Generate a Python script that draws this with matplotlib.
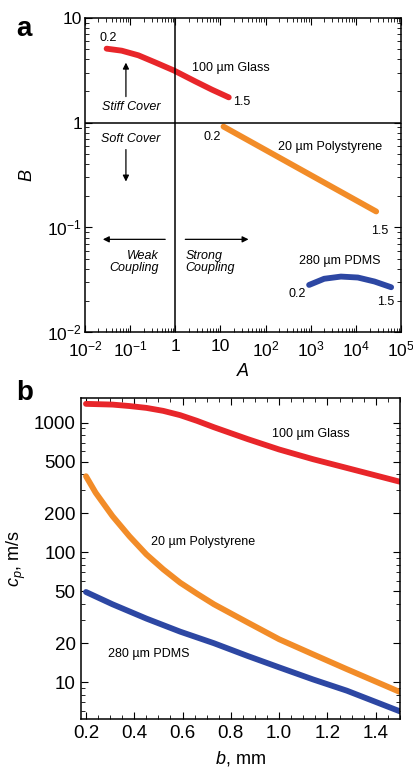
import numpy as np
import matplotlib
matplotlib.use('Agg')
import matplotlib.pyplot as plt
from matplotlib.ticker import FixedLocator, NullFormatter, LogLocator, MultipleLocator

plt.rcParams['font.family'] = ['Liberation Sans', 'DejaVu Sans']
plt.rcParams['mathtext.fontset'] = 'custom'
plt.rcParams['mathtext.rm'] = 'Liberation Sans'
plt.rcParams['mathtext.it'] = 'Liberation Sans:italic'

RED = '#e8262a'
ORANGE = '#f28c28'
BLUE = '#2d47a3'

# panel a: A-B curves (b runs 0.2 -> 1.5 mm along each)
glass_A = [0.0303, 0.0654, 0.153, 0.36, 0.95, 2.78, 6.5, 15.3]
glass_B = [5.07, 4.85, 4.38, 3.75, 3.13, 2.47, 2.06, 1.74]
ps_A = [11.7, 2.8e4]
ps_B = [0.916, 0.142]
pdms_A = [918, 1976, 4640, 1.1e4, 2.57e4, 6.0e4]
pdms_B = [0.0283, 0.0324, 0.034, 0.0333, 0.0305, 0.0269]

# panel b: phase velocity vs b
glass_b = [0.2, 0.31, 0.38, 0.45, 0.52, 0.59, 0.66, 0.73, 0.87, 1.0, 1.14, 1.28, 1.5]
glass_cp = [1393, 1375, 1340, 1297, 1230, 1140, 1030, 920, 745, 620, 522, 447, 350]
ps_b = [0.2, 0.24, 0.31, 0.38, 0.45, 0.52, 0.59, 0.66, 0.73, 0.87, 1.0, 1.14, 1.28, 1.5]
ps_cp = [386, 288, 190, 133, 96.5, 74, 58.4, 48, 39.8, 28.8, 21.4, 16.4, 12.6, 8.4]
pdms_b = [0.2, 0.31, 0.45, 0.59, 0.73, 0.87, 1.0, 1.14, 1.28, 1.5]
pdms_cp = [49.5, 39.8, 30.9, 24.5, 19.95, 15.9, 13.0, 10.5, 8.6, 5.96]

fig = plt.figure(figsize=(4.14, 7.71), dpi=100)

# ---------------- panel a ----------------
ax = fig.add_axes([0.205, 0.569, 0.764, 0.408])
ax.set_xscale('log')
ax.set_yscale('log')
ax.set_xlim(1e-2, 1e5)
ax.set_ylim(1e-2, 10)

lw = 4.2
ax.plot(glass_A, glass_B, color=RED, lw=lw, solid_capstyle='round')
ax.plot(ps_A, ps_B, color=ORANGE, lw=lw, solid_capstyle='round')
ax.plot(pdms_A, pdms_B, color=BLUE, lw=lw, solid_capstyle='round')

ax.axvline(1, color='black', lw=1.1)
ax.axhline(1, color='black', lw=1.1)

fs = 9
ax.text(0.032, 6.45, '0.2', fontsize=fs, ha='center', va='center')
ax.text(2.4, 3.34, '100 µm Glass', fontsize=fs, ha='left', va='center')
ax.text(19, 1.58, '1.5', fontsize=fs, ha='left', va='center')
ax.text(6.6, 0.736, '0.2', fontsize=fs, ha='center', va='center')
ax.text(190, 0.59, '20 µm Polystyrene', fontsize=fs, ha='left', va='center')
ax.text(3.3e4, 0.0915, '1.5', fontsize=fs, ha='center', va='center')
ax.text(540, 0.048, '280 µm PDMS', fontsize=fs, ha='left', va='center')
ax.text(490, 0.023, '0.2', fontsize=fs, ha='center', va='center')
ax.text(4.6e4, 0.0193, '1.5', fontsize=fs, ha='center', va='center')

ax.text(0.105, 1.42, 'Stiff Cover', fontsize=fs, style='italic', ha='center', va='center')
ax.text(0.105, 0.69, 'Soft Cover', fontsize=fs, style='italic', ha='center', va='center')
ax.text(0.44, 0.0464, 'Weak\nCoupling', fontsize=fs, style='italic', ha='right', va='center',
        linespacing=1.0)
ax.text(1.67, 0.0464, 'Strong\nCoupling', fontsize=fs, style='italic', ha='left', va='center',
        linespacing=1.0)

arr = dict(arrowstyle='-|>', color='black', lw=0.9, mutation_scale=9, shrinkA=0, shrinkB=0)
ax.annotate('', xy=(0.081, 3.73), xytext=(0.081, 1.77), arrowprops=arr)
ax.annotate('', xy=(0.081, 0.274), xytext=(0.081, 0.553), arrowprops=arr)
ax.annotate('', xy=(0.025, 0.077), xytext=(0.6, 0.077), arrowprops=arr)
ax.annotate('', xy=(41.9, 0.077), xytext=(1.67, 0.077), arrowprops=arr)

xt = [1e-2, 1e-1, 1, 10, 1e2, 1e3, 1e4, 1e5]
xtl = ['10$^{-2}$', '10$^{-1}$', '1', '10', '10$^2$', '10$^3$', '10$^4$', '10$^5$']
ax.xaxis.set_major_locator(FixedLocator(xt))
ax.set_xticklabels(xtl)
yt = [1e-2, 1e-1, 1, 10]
ytl = ['10$^{-2}$', '10$^{-1}$', '1', '10']
ax.yaxis.set_major_locator(FixedLocator(yt))
ax.set_yticklabels(ytl)
ax.xaxis.set_minor_locator(LogLocator(base=10, subs=np.arange(2, 10), numticks=20))
ax.yaxis.set_minor_locator(LogLocator(base=10, subs=np.arange(2, 10), numticks=20))
ax.xaxis.set_minor_formatter(NullFormatter())
ax.yaxis.set_minor_formatter(NullFormatter())
ax.tick_params(which='both', direction='in', top=True, right=True, labelsize=12.5)
ax.tick_params(axis='x', pad=5)
ax.tick_params(axis='y', pad=2)
ax.tick_params(which='major', length=5, width=0.8)
ax.tick_params(which='minor', length=2.8, width=0.6)
for s in ax.spines.values():
    s.set_linewidth(1.1)

ax.set_xlabel('$A$', fontsize=13, labelpad=3)
ax.set_ylabel('$B$', fontsize=13, labelpad=8)
fig.text(0.04, 0.962, 'a', fontsize=20, fontweight='bold', ha='left', va='center')

# ---------------- panel b ----------------
bx = fig.add_axes([0.196, 0.0674, 0.770, 0.4166])
bx.set_yscale('log')
bx.set_xlim(0.18, 1.5)
bx.set_ylim(5.2, 1550)

bx.plot(glass_b, glass_cp, color=RED, lw=lw, solid_capstyle='round')
bx.plot(ps_b, ps_cp, color=ORANGE, lw=lw, solid_capstyle='round')
bx.plot(pdms_b, pdms_cp, color=BLUE, lw=lw, solid_capstyle='round')

bx.text(0.97, 820, '100 µm Glass', fontsize=fs, ha='left', va='center')
bx.text(0.47, 120, '20 µm Polystyrene', fontsize=fs, ha='left', va='center')
bx.text(0.29, 16.5, '280 µm PDMS', fontsize=fs, ha='left', va='center')

ytb = [10, 20, 50, 100, 200, 500, 1000]
bx.yaxis.set_major_locator(FixedLocator(ytb))
bx.set_yticklabels([str(v) for v in ytb])
bx.yaxis.set_minor_locator(LogLocator(base=10, subs=np.arange(2, 10), numticks=20))
bx.yaxis.set_minor_formatter(NullFormatter())
bx.xaxis.set_minor_locator(MultipleLocator(0.05))
bx.set_xticks([0.2, 0.4, 0.6, 0.8, 1.0, 1.2, 1.4])
bx.set_xticklabels(['0.2', '0.4', '0.6', '0.8', '1.0', '1.2', '1.4'])
bx.tick_params(which='both', direction='in', top=True, right=True, labelsize=13.5, pad=4)
bx.tick_params(which='major', length=5, width=0.8)
bx.tick_params(which='minor', length=2.8, width=0.6)
for s in bx.spines.values():
    s.set_linewidth(1.1)

bx.set_xlabel('$b$, mm', fontsize=13, labelpad=5)
bx.set_ylabel('$c_p$, m/s', fontsize=13, labelpad=4)
fig.text(0.04, 0.49, 'b', fontsize=20, fontweight='bold', ha='left', va='center')

fig.savefig('out.png', dpi=100)
